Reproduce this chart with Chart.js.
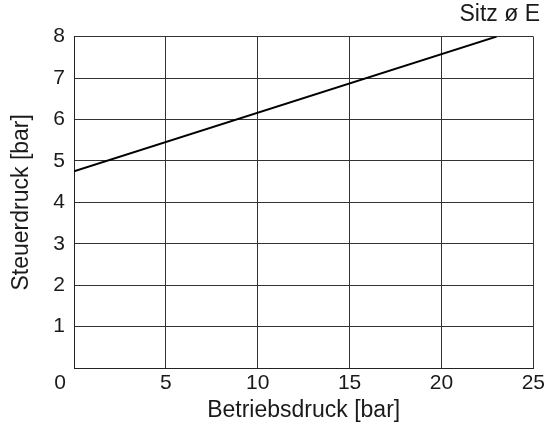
<!DOCTYPE html>
<html>
<head>
<meta charset="utf-8">
<script src="https://cdn.jsdelivr.net/npm/chart.js@4"></script>
<style>
  html, body { margin: 0; padding: 0; background: #fff; }
</style>
</head>
<body>
<canvas id="chart" width="548" height="425"></canvas>
<script>
const betriebsdruck = [0, 23];
const steuerdruck = [4.75, 8];
const xTicks = [0, 5, 10, 15, 20, 25];
const yTicks = [0, 1, 2, 3, 4, 5, 6, 7, 8];

const fontFamily = "'Liberation Sans', Arial, sans-serif";

// "0" im Ursprung, unter der y-Achsenbeschriftung
const originLabel = {
  id: "originLabel",
  afterDraw(chart) {
    const { ctx, scales } = chart;
    const yAx = scales.y;
    const xAx = scales.x;
    ctx.save();
    ctx.font = "21px " + fontFamily;
    ctx.fillStyle = "#1a1a1a";
    ctx.textAlign = "right";
    ctx.textBaseline = "middle";
    ctx.fillText("0", yAx.right - 8, xAx.top + 15);
    ctx.restore();
  },
};

new Chart(document.getElementById("chart"), {
  type: "scatter",
  data: {
    datasets: [
      {
        data: betriebsdruck.map((x, i) => ({ x: x, y: steuerdruck[i] })),
        showLine: true,
        borderColor: "#000",
        borderWidth: 2,
        pointRadius: 0,
        fill: false,
      },
    ],
  },
  options: {
    responsive: false,
    animation: false,
    layout: { padding: { left: 0, right: 8, top: 0, bottom: 0 } },
    plugins: {
      legend: { display: false },
      tooltip: { enabled: false },
      title: {
        display: true,
        text: "Sitz ø E",
        align: "end",
        color: "#1a1a1a",
        font: { family: fontFamily, size: 23, weight: "normal" },
        padding: { top: 1, bottom: 8 },
      },
    },
    scales: {
      x: {
        type: "linear",
        min: 0,
        max: 25,
        afterBuildTicks: (ax) => { ax.ticks = xTicks.map((v) => ({ value: v })); },
        afterFit: (ax) => { ax.height = 57; },
        ticks: {
          color: "#1a1a1a",
          font: { family: fontFamily, size: 21 },
          padding: 3,
          callback: (v) => (v === 0 ? "" : v),
          maxRotation: 0,
        },
        grid: { color: "#333", lineWidth: 1, drawTicks: false },
        border: { color: "#222", width: 1 },
        title: {
          display: true,
          text: "Betriebsdruck [bar]",
          color: "#1a1a1a",
          font: { family: fontFamily, size: 23 },
          padding: { top: 0, bottom: 1 },
        },
      },
      y: {
        type: "linear",
        min: 0,
        max: 8,
        afterBuildTicks: (ax) => { ax.ticks = yTicks.map((v) => ({ value: v })); },
        afterFit: (ax) => { ax.width = 74; },
        ticks: {
          color: "#1a1a1a",
          font: { family: fontFamily, size: 21 },
          padding: 9,
          callback: (v) => (v === 0 ? "" : v),
        },
        grid: { color: "#333", lineWidth: 1, drawTicks: false },
        border: { color: "#222", width: 1 },
        title: {
          display: true,
          text: "Steuerdruck [bar]",
          color: "#1a1a1a",
          font: { family: fontFamily, size: 23 },
          padding: { top: 8, bottom: 4 },
        },
      },
    },
  },
  plugins: [originLabel],
});
</script>
</body>
</html>
